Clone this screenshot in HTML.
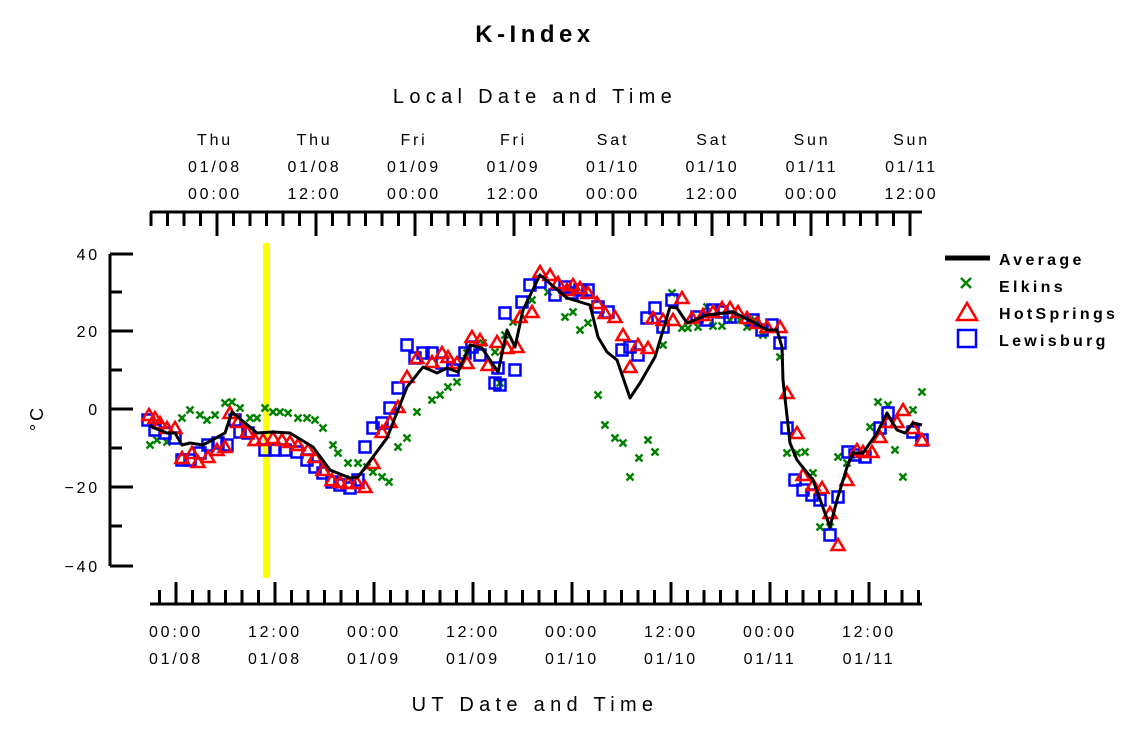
<!DOCTYPE html>
<html><head><meta charset="utf-8"><style>
html,body{margin:0;padding:0;background:#fff;}
svg{display:block;font-family:"Liberation Sans",sans-serif;}
</style></head><body>
<svg id="s" width="1125" height="731" viewBox="0 0 1125 731" xmlns="http://www.w3.org/2000/svg">
<rect width="1125" height="731" fill="#fff"/>
<text x="535" y="42" font-size="24" font-weight="bold" text-anchor="middle" letter-spacing="4.5">K-Index</text>
<text x="535" y="103" font-size="20" text-anchor="middle" letter-spacing="5.3">Local Date and Time</text>
<text x="535" y="711" font-size="20" text-anchor="middle" letter-spacing="5.3">UT Date and Time</text>
<text x="43" y="418" font-size="18" text-anchor="middle" letter-spacing="3" transform="rotate(-90 43 418)">°C</text>
<rect x="263" y="243" width="7" height="335" fill="#ffff00"/>
<g id="axes" stroke="#000" stroke-width="3" fill="none"></g>
<g id="lbl" font-size="16" text-anchor="middle" letter-spacing="2.8"></g>
<g id="data"></g>
<g font-size="16" font-weight="bold" letter-spacing="3.3">
<line x1="945" y1="258" x2="990" y2="258" stroke="#000" stroke-width="5"/>
<text x="999" y="265">Average</text>
<path d="M961,278 l10,10 M971,278 l-10,10" stroke="#008000" stroke-width="2.5"/>
<text x="999" y="292">Elkins</text>
<path d="M957,320 l10,-17 l10,17 z" stroke="#ff0000" stroke-width="2.5" fill="none"/>
<text x="999" y="319">HotSprings</text>
<rect x="958" y="330" width="18" height="17" stroke="#0000ff" stroke-width="2.5" fill="none"/>
<text x="999" y="346">Lewisburg</text>
</g>
</svg>
<script>
var NS="http://www.w3.org/2000/svg";
function el(p,t,a,txt){var e=document.createElementNS(NS,t);for(var k in a)e.setAttribute(k,a[k]);if(txt!==undefined)e.textContent=txt;p.appendChild(e);return e;}
var ax=document.getElementById('axes'),lb=document.getElementById('lbl'),dg=document.getElementById('data');
el(ax,'line',{x1:110,y1:254,x2:110,y2:566});
var yl={254:'40',331:'20',409:'0',487:'\u221220',566:'\u221240'};
[254,292,331,370,409,448,487,526,566].forEach(function(y){var maj=yl[y]!==undefined;el(ax,'line',{x1:110,y1:y,x2:maj?133:122,y2:y});if(maj)el(lb,'text',{x:100,y:y+6,'text-anchor':'end'},yl[y]);});
el(ax,'line',{x1:150,y1:604,x2:922,y2:604});
for(var i=-1;;i++){var x=176+i*16.5;if(x>923)break;if(x<150)continue;var maj=(i%6===0);el(ax,'line',{x1:x,y1:604,x2:x,y2:maj?582:590});}
var bt=['00:00','12:00','00:00','12:00','00:00','12:00','00:00','12:00'],bd=['01/08','01/08','01/09','01/09','01/10','01/10','01/11','01/11'];
for(var j=0;j<8;j++){var x=176+j*99;el(lb,'text',{x:x,y:637},bt[j]);el(lb,'text',{x:x,y:664},bd[j]);}
el(ax,'line',{x1:150,y1:212,x2:922,y2:212});
for(var i=-5;;i++){var x=217+i*16.5;if(x>923)break;if(x<150)continue;var maj=(i%6===0);el(ax,'line',{x1:x,y1:212,x2:x,y2:maj?236:226});}
var td=['Thu','Thu','Fri','Fri','Sat','Sat','Sun','Sun'],tdd=['01/08','01/08','01/09','01/09','01/10','01/10','01/11','01/11'],tt=['00:00','12:00','00:00','12:00','00:00','12:00','00:00','12:00'];
for(var j=0;j<8;j++){var x=215+j*99.5;el(lb,'text',{x:x,y:145},td[j]);el(lb,'text',{x:x,y:172},tdd[j]);el(lb,'text',{x:x,y:199},tt[j]);}
function P(s){var a=s.trim().split(/\s+/).map(Number),r=[];for(var i=0;i<a.length;i+=2)r.push([a[i],a[i+1]]);return r;}
var E=P("150 445 157 440 167 442 182 418 190 410 200 415 207 420 215 415 225 403 232 402 240 408 250 418 257 418 265 408 273 412 280 412 288 413 298 418 307 418 315 420 323 428 333 445 338 453 348 463 358 463 367 467 373 472 382 477 389 482 398 447 407 438 417 412 432 400 440 395 448 387 457 382 467 353 483 343 495 352 500 383 505 335 513 322 532 300 548 292 565 317 573 312 580 330 588 323 598 395 605 425 615 438 623 443 630 477 639 458 648 440 655 452 663 345 672 293 682 328 688 328 698 327 707 307 713 326 722 326 730 320 740 320 747 327 755 320 763 335 780 357 787 453 797 453 805 452 813 473 820 527 830 527 838 457 847 463 870 427 878 402 888 405 895 450 903 477 913 410 922 392");
var H=P("149 415 155 418 160 423 167 428 175 428 182 458 192 453 198 462 208 457 217 450 225 447 230 413 238 422 247 432 255 440 263 440 273 438 282 440 290 442 298 445 308 450 315 457 323 470 332 480 340 482 348 483 357 483 365 487 373 463 382 432 390 422 398 407 407 377 417 358 432 362 442 353 448 357 457 363 467 363 472 337 480 340 488 365 497 342 507 348 517 347 520 317 532 312 540 272 550 275 558 283 567 290 573 285 580 288 588 293 597 303 605 313 615 317 623 335 630 367 638 345 648 348 653 318 663 320 673 320 682 298 692 318 703 315 713 312 722 308 730 308 738 312 747 318 757 323 767 327 780 327 787 393 797 433 803 475 813 485 822 488 830 513 838 545 847 480 857 450 863 452 872 452 880 437 888 422 897 422 903 410 913 428 922 440");
var L=P("148 420 155 430 165 433 175 438 182 460 190 460 200 453 208 445 218 443 227 445 235 420 240 432 248 433 265 450 275 450 285 450 297 452 307 460 315 467 323 473 332 482 340 485 350 488 358 480 365 447 373 428 382 423 390 408 398 388 407 345 415 358 423 353 432 353 442 363 453 370 465 353 472 347 480 355 495 383 498 368 500 385 505 313 515 370 522 302 530 285 540 282 555 295 565 287 572 293 580 290 588 290 598 307 608 312 622 350 630 347 638 355 647 318 655 308 663 327 672 300 697 317 707 320 713 310 722 312 730 317 753 320 762 330 772 325 780 343 787 428 795 480 803 490 812 495 820 500 830 535 838 497 848 452 855 455 865 457 880 428 888 413 913 432 922 440");
var A=P("150 425 152 427 167 433 175 433 182 445 190 443 203 445 225 433 232 412 257 433 273 432 290 433 313 447 330 470 350 478 358 477 387 438 407 387 423 367 437 373 447 368 458 372 470 345 482 348 498 372 500 363 507 330 515 347 523 310 540 275 567 298 590 305 598 337 607 352 617 360 630 398 640 383 655 357 670 307 677 308 687 323 707 315 733 312 753 322 767 330 777 330 782 347 783 380 790 443 797 460 813 480 830 527 837 500 847 467 853 453 863 453 877 433 887 413 897 430 905 433 913 423 922 425");
E.forEach(function(p){el(dg,'path',{d:'M'+(p[0]-3.5)+','+(p[1]-3.5)+' l7,7 M'+(p[0]+3.5)+','+(p[1]-3.5)+' l-7,7',stroke:'#008000','stroke-width':2.5,fill:'none'});});
L.forEach(function(p){el(dg,'rect',{x:p[0]-5.5,y:p[1]-5.5,width:11,height:11,stroke:'#0000ff','stroke-width':2.5,fill:'none'});});
H.forEach(function(p){el(dg,'path',{d:'M'+(p[0]-6.5)+','+(p[1]+5)+' l6.5,-11 l6.5,11 z',stroke:'#ff0000','stroke-width':2.5,fill:'none'});});
el(dg,'polyline',{points:A.map(function(p){return p.join(',')}).join(' '),stroke:'#000','stroke-width':3,fill:'none','stroke-linejoin':'round'});
</script>
</body></html>
